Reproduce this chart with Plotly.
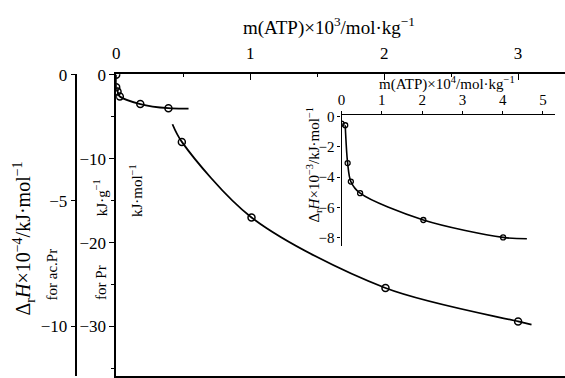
import plotly.graph_objects as go

# Main plot: m(ATP) x10^3 / mol kg^-1
pr_x = [0.0, 0.0, 0.01, 0.027, 0.18, 0.39]
pr_y = [0.0, -1.5, -2.0, -2.6, -3.5, -4.0]          # kJ g^-1, for Pr
pr_line_x = [0.0, 0.0, 0.01, 0.027, 0.18, 0.39, 0.54]
pr_line_y = [0.0, -1.5, -2.0, -2.6, -3.5, -4.0, -4.05]

acpr_x = [0.49, 1.01, 2.01, 3.0]
acpr_y = [-2.67, -5.67, -8.47, -9.8]                 # x10^-4 kJ mol^-1, for ac.Pr
acpr_line_x = [0.42, 0.49, 1.01, 2.01, 3.0, 3.1]
acpr_line_y = [-1.97, -2.67, -5.67, -8.47, -9.8, -9.93]

# Inset: m(ATP) x10^4 / mol kg^-1
ins_x = [0.0, 0.09, 0.15, 0.23, 0.46, 2.03, 4.01]
ins_y = [-0.46, -0.57, -3.07, -4.29, -5.06, -6.83, -7.98]
ins_line_x = [0.09, 0.15, 0.23, 0.46, 2.03, 4.01, 4.6]
ins_line_y = [-0.57, -3.07, -4.29, -5.06, -6.83, -7.98, -8.07]

main_xticks = [0, 1, 2, 3]
pr_ticks = [0, -10, -20, -30]
acpr_ticks = [0, -5, -10]
ins_xticks = [0, 1, 2, 3, 4, 5]
ins_yticks = [0, -2, -4, -6, -8]

W, H = 565, 378
FONT = "Liberation Serif"


def px(x):
    return x / W


def py(y):
    return 1 - y / H


fig = go.Figure()
line_style = dict(color="black", width=1.8, shape="spline", smoothing=0.9)
mk = dict(symbol="circle-open", color="black", size=7, line=dict(width=1.5))

fig.add_trace(go.Scatter(x=pr_line_x, y=pr_line_y, mode="lines", line=line_style,
                         xaxis="x", yaxis="y", hoverinfo="skip"))
fig.add_trace(go.Scatter(x=pr_x, y=pr_y, mode="markers", marker=mk,
                         xaxis="x", yaxis="y"))
fig.add_trace(go.Scatter(x=acpr_line_x, y=acpr_line_y, mode="lines", line=line_style,
                         xaxis="x", yaxis="y2", hoverinfo="skip"))
fig.add_trace(go.Scatter(x=acpr_x, y=acpr_y, mode="markers", marker=mk,
                         xaxis="x", yaxis="y2"))
fig.add_trace(go.Scatter(x=ins_line_x, y=ins_line_y, mode="lines",
                         line=dict(color="black", width=1.6, shape="spline", smoothing=0.9),
                         xaxis="x2", yaxis="y3", hoverinfo="skip"))
fig.add_trace(go.Scatter(x=ins_x, y=ins_y, mode="markers",
                         marker=dict(symbol="circle-open", color="black", size=5, line=dict(width=1.3)),
                         xaxis="x2", yaxis="y3"))

ax_common = dict(showline=True, linecolor="black", linewidth=1.6, showgrid=False,
                 zeroline=False, tickcolor="black", tickwidth=1.3,
                 tickfont=dict(family=FONT, size=17, color="black"))
ins_font = dict(family=FONT, size=15, color="black")

y_lo, y_hi = -35.9, 0.05
fig.update_layout(
    width=W, height=H, margin=dict(l=0, r=0, t=0, b=0),
    paper_bgcolor="white", plot_bgcolor="rgba(0,0,0,0)",
    showlegend=False,
    font=dict(family=FONT, color="black"),
    xaxis=dict(domain=[px(113), 1.0], range=[0, 3.35], side="top", anchor="y",
               tickvals=main_xticks, ticks="inside", ticklen=6, mirror=True,
               ticklabelstandoff=7,
               minor=dict(dtick=0.5, ticks="inside", ticklen=3, tickcolor="black"),
               **ax_common),
    yaxis=dict(domain=[py(377), py(67)], range=[y_lo, y_hi], anchor="x",
               tickvals=pr_ticks, ticks="outside", ticklen=5,
               minor=dict(dtick=5, ticks="outside", ticklen=3, tickcolor="black"),
               **ax_common),
    yaxis2=dict(overlaying="y", anchor="free", position=px(73), side="left",
                range=[y_lo / 3, y_hi / 3], tickvals=acpr_ticks,
                ticks="outside", ticklen=5,
                **ax_common),
    xaxis2=dict(domain=[px(340), px(555)], range=[0, 5.30], side="top", anchor="y3",
                tickvals=ins_xticks, ticks="outside", ticklen=3,
                **{**ax_common, "tickfont": ins_font, "linewidth": 1.4}),
    yaxis3=dict(domain=[py(243), py(109)], range=[-8.52, 0.1], anchor="x2",
                tickvals=ins_yticks, ticks="outside", ticklen=3,
                **{**ax_common, "tickfont": ins_font, "linewidth": 1.4}),
)

labels = [
    ("m(ATP)×10<sup>3</sup>/mol·kg<sup>−1</sup>", 327, 18, 19, 0),
    ("Δ<sub>r</sub><i>H</i>×10<sup>−4</sup>/kJ·mol<sup>−1</sup>", 20, 236, 20, -90),
    ("for ac.Pr", 48, 273, 15, -90),
    ("for Pr", 97, 281, 15, -90),
    ("kJ·g<sup>−1</sup>", 97, 194, 15, -90),
    ("kJ·mol<sup>−1</sup>", 133, 187, 15, -90),
    ("m(ATP)×10<sup>4</sup>/mol·kg<sup>−1</sup>", 446, 77, 15, 0),
    ("Δ<sub>r</sub><i>H</i>×10<sup>−3</sup>/kJ·mol<sup>−1</sup>", 312, 160, 15, -90),
]
for text, x, y, size, ang in labels:
    fig.add_annotation(text=text, x=px(x), y=py(y), xref="paper", yref="paper",
                       showarrow=False, textangle=ang,
                       font=dict(family=FONT, size=size, color="black"),
                       xanchor="center", yanchor="middle")

fig.write_html("out.html")
